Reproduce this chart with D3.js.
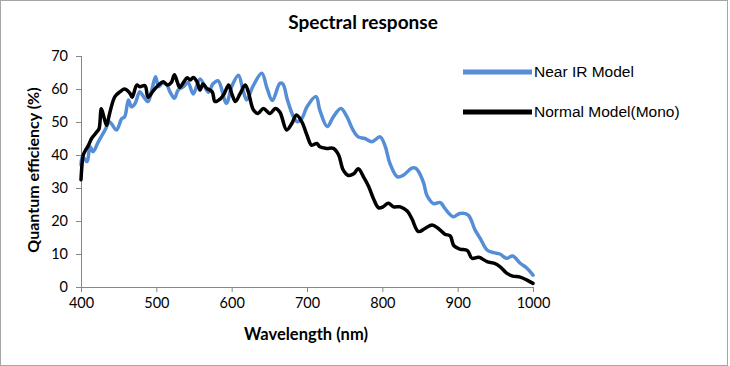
<!DOCTYPE html>
<html><head><meta charset="utf-8">
<script src="https://cdn.jsdelivr.net/npm/d3@7"></script>
<style>body{margin:0;background:#fff}</style>
</head><body>
<svg id="c" width="730" height="366"></svg>
<script>
const xTicks = [400,500,600,700,800,900,1000];
const yTicks = [0,10,20,30,40,50,60,70];
const nirWl = [400,402,408,412,416,423,432,438,447,454,458,463,467,472,478,483,489,494,499,503,508,514,518,524,529,536,542,549,558,569,575,582,593,600,609,615,620,628,640,647,654,664,668,674,682,687,693,700,712,717,727,735,745,753,761,768,777,786,797,804,810,820,828,839,844,848,855,859,868,877,883,894,903,914,923,930,939,948,956,965,973,983,992,1000];
const nirQE = [37,39.5,38,42.5,41,44,47.6,50,47.6,51,51.6,56.7,54.6,55.7,59.2,57.7,56.2,59.7,63.7,60.7,61.7,61.2,59.2,57.2,59.7,60.7,62,58.5,63,59,61.5,62.5,55.7,60.7,64.2,59.7,56.7,60.7,64.8,60.2,56.5,61.7,61.5,56.7,51.6,50.1,51,54.6,57.7,53.6,48.6,51.6,54.1,51.6,47.6,45.5,45,44,45.5,42.5,37.5,33.4,33.9,36,36,35,31.4,27.9,25.3,25.6,23.8,21.3,22.3,21.8,17.3,14.7,11.2,10.4,10,8.7,9.4,7.2,5.7,3.6];
const monoWl = [400,403,405,410,414,421,424,427,431,434,438,445,452,458,465,468,474,478,485,489,496,503,509,515,520,524,528,531,536,541,545,549,554,558,562,567,574,578,585,590,596,600,605,611,618,622,629,635,642,651,658,664,673,680,686,693,700,706,713,717,726,735,742,748,755,762,768,775,782,788,795,801,808,815,824,833,839,848,857,866,874,883,890,895,903,913,919,928,939,948,956,965,973,983,992,1000];
const monoQE = [32.5,40,41,43,45,47,48,54,51,49,52.6,57.7,59.2,60,58.7,57.5,61.2,60.7,61,57.5,59.5,61.2,62.2,61.2,62,64.3,62,60.5,62,63.4,62.7,63.5,62.2,59.7,61.5,60.2,59.2,56.2,57,58.5,61.2,58.7,56.2,58.5,61.2,59.2,53.6,52.6,54.1,52.6,54.1,53,47.6,49.6,52.1,50.1,46,43,43.5,42.5,42,42,40,35.5,33.8,34.3,35.8,33.4,30.4,26.9,24,24.3,25.4,24.3,24.3,23,20.8,16.8,17.8,18.8,17.8,16,15.5,12.5,11.5,11,8.7,9,7.7,7.2,6.2,4.2,3.3,3,2.1,1.1];
const seriesNames = ["Near IR Model","Normal Model(Mono)"];

const svg = d3.select("#c");
const x = d3.scaleLinear().domain([400,1000]).range([81,533]);
const y = d3.scaleLinear().domain([0,70]).range([287,56]);
const axisCol = "#868686";
const font = "Lato, 'Open Sans', sans-serif";

svg.append("rect").attr("x",0.5).attr("y",0.5).attr("width",727).attr("height",365)
  .attr("fill","#fff").attr("stroke","#a6a6a6");

svg.append("text").attr("x",363).attr("y",29).attr("text-anchor","middle")
  .attr("font-family",font).attr("font-weight","bold").attr("font-size",19)
  .attr("fill","#000").text("Spectral response");

const gx = svg.append("g").attr("transform","translate(0,287)")
  .call(d3.axisBottom(x).tickValues(xTicks).tickSize(5).tickPadding(6).tickFormat(d3.format("d")));
const gy = svg.append("g").attr("transform","translate(81,0)")
  .call(d3.axisLeft(y).tickValues(yTicks).tickSize(5).tickPadding(8));
[gx,gy].forEach(g=>{
  g.selectAll("path,line").attr("stroke",axisCol);
  g.selectAll("text").attr("font-family",font).attr("font-size",14.5).attr("fill","#000");
});
gy.select(".domain").attr("d","M0.5,56V287.5");
gx.select(".domain").attr("d","M81,0.5H533");

svg.append("text").attr("x",306).attr("y",340).attr("text-anchor","middle")
  .attr("font-family",font).attr("font-weight","bold").attr("font-size",16.5)
  .text("Wavelength (nm)");
svg.append("text").attr("transform","translate(39,170) rotate(-90)").attr("text-anchor","middle")
  .attr("font-family",font).attr("font-weight","bold").attr("font-size",16)
  .text("Quantum efficiency (%)");

const line = d3.line().x(d=>x(d[0])).y(d=>y(d[1])).curve(d3.curveCatmullRom.alpha(0.5));
const series = [
  {name:seriesNames[0], pts:d3.zip(nirWl,nirQE), color:"#558ed5"},
  {name:seriesNames[1], pts:d3.zip(monoWl,monoQE), color:"#000000"}
];
series.forEach(s=>{
  svg.append("path").datum(s.pts).attr("d",line).attr("fill","none")
    .attr("stroke",s.color).attr("stroke-width",3.5).attr("stroke-linejoin","round").attr("stroke-linecap","round");
});

const legY = [72,112];
series.forEach((s,i)=>{
  svg.append("line").attr("x1",463).attr("x2",532).attr("y1",legY[i]).attr("y2",legY[i])
    .attr("stroke",s.color).attr("stroke-width",5);
  svg.append("text").attr("x",534).attr("y",legY[i]+5)
    .attr("font-family","'Liberation Sans', Arial, sans-serif").attr("font-size",15.5).text(s.name);
});
</script>
</body></html>
